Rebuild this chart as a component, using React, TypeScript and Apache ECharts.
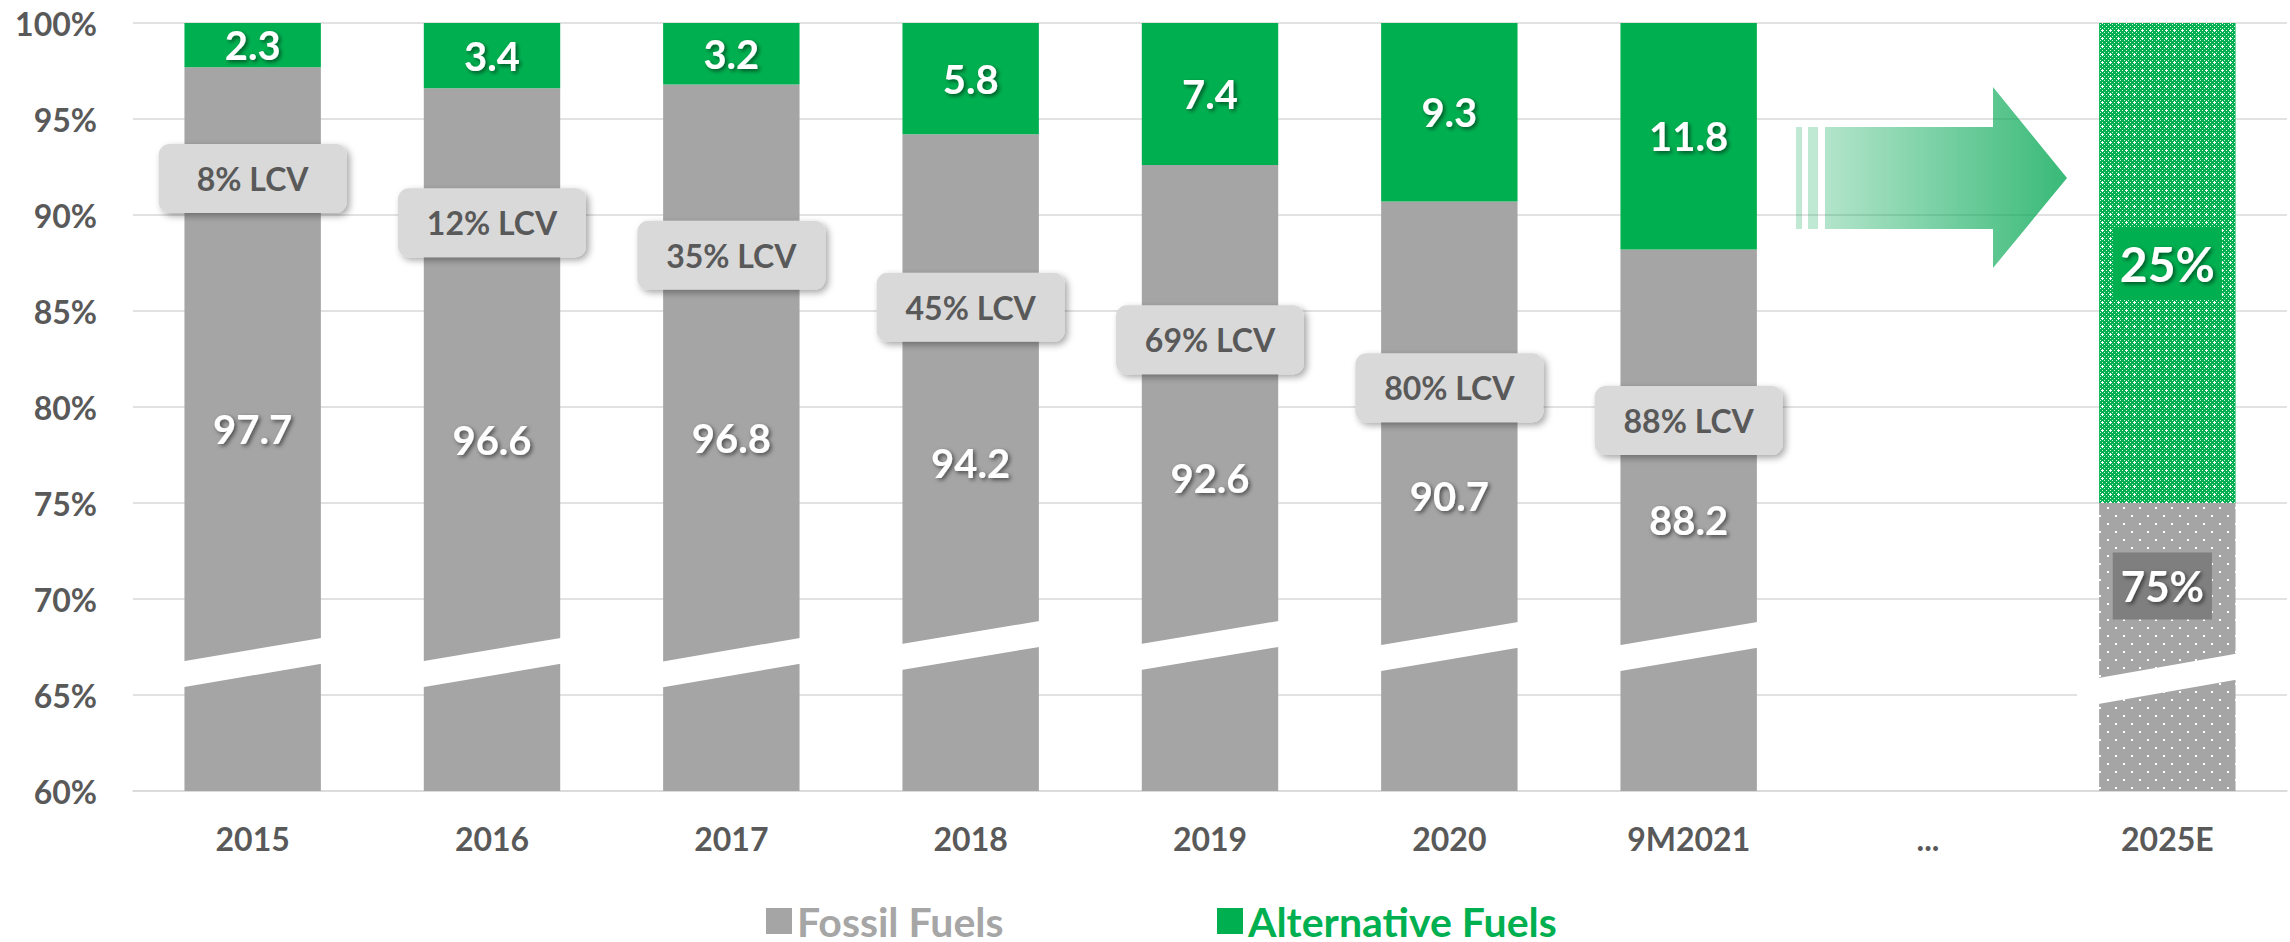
import React, { useEffect, useRef } from 'react';
import * as echarts from 'echarts';

const categories = ['2015', '2016', '2017', '2018', '2019', '2020', '9M2021', '...', '2025E'];
const fossilValues: (number | null)[] = [97.7, 96.6, 96.8, 94.2, 92.6, 90.7, 88.2, null, 75];
const alternativeValues: (number | null)[] = [2.3, 3.4, 3.2, 5.8, 7.4, 9.3, 11.8, null, 25];
const lcvLabels = ['8% LCV', '12% LCV', '35% LCV', '45% LCV', '69% LCV', '80% LCV', '88% LCV'];
const lcvLevels = [91.9, 89.6, 87.9, 85.2, 83.5, 81.0, 79.3];
// axis-break band: top value at left edge, top value at right edge
const breakLeftTop: (number | null)[] = [66.77, 66.77, 66.75, 67.66, 67.66, 67.6, 67.6, null, 65.89];
const breakRightTop: (number | null)[] = [67.97, 67.97, 67.97, 68.85, 68.85, 68.8, 68.8, null, 67.14];
const breakGap = 1.35;
const yMin = 60;
const yMax = 100;
const yInterval = 5;
const forecastIndex = 8;
const forecastFossilText = '75%';
const forecastAltText = '25%';

const GREY = '#a5a5a5';
const GREEN = '#00b050';
const TEXT = '#595959';
const FONT = 'Lato';
const BAR_RATIO = 0.57;

function makeGreenPattern() {
  const c = document.createElement('canvas');
  c.width = 8;
  c.height = 8;
  const ctx = c.getContext('2d')!;
  ctx.fillStyle = GREEN;
  ctx.fillRect(0, 0, 8, 8);
  ctx.fillStyle = 'rgba(255,255,255,0.85)';
  for (let y = 0; y < 8; y++) {
    for (let x = 0; x < 8; x++) {
      if (x % 2 === 0 && y % 2 === 0 && (x + y) % 4 === 0) ctx.fillRect(x, y, 1, 1);
    }
  }
  ctx.fillStyle = '#ffffff';
  ctx.fillRect(6, 5, 1, 3);
  ctx.fillRect(5, 6, 3, 1);
  return { image: c, repeat: 'repeat', imageWidth: 8, imageHeight: 8 } as any;
}

function makeGreyPattern() {
  const c = document.createElement('canvas');
  c.width = 16;
  c.height = 16;
  const ctx = c.getContext('2d')!;
  ctx.fillStyle = GREY;
  ctx.fillRect(0, 0, 16, 16);
  ctx.fillStyle = '#ffffff';
  ctx.fillRect(3, 3, 2, 2);
  ctx.fillRect(11, 11, 2, 2);
  return { image: c, repeat: 'repeat', imageWidth: 16, imageHeight: 16 } as any;
}

const valueLabel = {
  show: true,
  position: 'inside',
  color: '#ffffff',
  fontFamily: FONT,
  fontWeight: 'bold',
  fontSize: 40,
  textShadowColor: 'rgba(0,0,0,0.55)',
  textShadowBlur: 4,
  textShadowOffsetX: 2,
  textShadowOffsetY: 2,
};

export default function App() {
  const ref = useRef<HTMLDivElement>(null);

  useEffect(() => {
    if (!ref.current) return;
    const chart = echarts.init(ref.current, undefined, { renderer: 'svg' });

    const greenPattern = makeGreenPattern();
    const greyPattern = makeGreyPattern();

    const fossilData = fossilValues.map((v, i) => {
      if (i === forecastIndex) {
        return {
          value: v,
          itemStyle: { color: greyPattern },
          label: {
            ...valueLabel,
            formatter: forecastFossilText,
            fontSize: 42,
            lineHeight: 42,
            backgroundColor: '#7f7f7f',
            padding: [13, 8, 12, 8],
            offset: [-5, -61],
          },
        };
      }
      return v;
    });
    const altData = alternativeValues.map((v, i) => {
      if (i === forecastIndex) {
        return {
          value: v,
          itemStyle: { color: greenPattern },
          label: {
            ...valueLabel,
            formatter: forecastAltText,
            fontSize: 48,
            lineHeight: 48,
            backgroundColor: GREEN,
            padding: [12, 7, 12, 7],
          },
        };
      }
      return v;
    });

    const breakData: number[][] = [];
    breakLeftTop.forEach((v, i) => {
      const r = breakRightTop[i];
      if (v != null && r != null) breakData.push([i, v, r, breakGap]);
    });

    const lcvData = lcvLevels.map((v, i) => [i, v]);

    const legendText = { fontFamily: FONT, fontWeight: 'bold', fontSize: 41, lineHeight: 48 };

    const option: any = {
      animation: false,
      backgroundColor: '#ffffff',
      grid: { left: 133, right: 3, top: 23, bottom: 151, containLabel: false },
      legend: [
        {
          left: 761,
          top: 892,
          icon: 'rect',
          itemWidth: 26,
          itemHeight: 26,
          selectedMode: false,
          data: [{ name: 'Fossil Fuels', textStyle: { color: '#a6a6a6' } }],
          textStyle: legendText,
        },
        {
          left: 1212,
          top: 892,
          icon: 'rect',
          itemWidth: 26,
          itemHeight: 26,
          selectedMode: false,
          data: [{ name: 'Alternative Fuels', textStyle: { color: GREEN } }],
          textStyle: legendText,
        },
      ],
      xAxis: {
        type: 'category',
        data: categories,
        axisTick: { show: false },
        axisLine: { lineStyle: { color: '#d9d9d9', width: 1.5 } },
        axisLabel: {
          color: TEXT,
          fontFamily: FONT,
          fontWeight: 'bold',
          fontSize: 32,
          lineHeight: 32,
          margin: 31,
          interval: 0,
        },
      },
      yAxis: {
        type: 'value',
        min: yMin,
        max: yMax,
        interval: yInterval,
        axisLine: { show: false },
        axisTick: { show: false },
        splitLine: { lineStyle: { color: '#d9d9d9', width: 1.5 } },
        axisLabel: {
          formatter: '{value}%',
          color: TEXT,
          fontFamily: FONT,
          fontWeight: 'bold',
          fontSize: 32,
          margin: 36,
        },
      },
      series: [
        {
          name: 'Fossil Fuels',
          type: 'bar',
          stack: 'fuel',
          barWidth: BAR_RATIO * 100 + '%',
          itemStyle: { color: GREY },
          label: { ...valueLabel, formatter: (p: any) => Number(p.value).toFixed(1) },
          data: fossilData,
          z: 2,
        },
        {
          name: 'Alternative Fuels',
          type: 'bar',
          stack: 'fuel',
          barWidth: BAR_RATIO * 100 + '%',
          itemStyle: { color: GREEN },
          label: { ...valueLabel, formatter: (p: any) => Number(p.value).toFixed(1) },
          data: altData,
          z: 2,
        },
        {
          type: 'custom',
          z: 5,
          silent: true,
          clip: false,
          encode: { x: 0, y: 1 },
          data: breakData,
          renderItem: (params: any, api: any) => {
            const idx = api.value(0);
            const topL = api.value(1);
            const topR = api.value(2);
            const gap = api.value(3);
            const c = api.coord([idx, topL]);
            const band = api.size([1, 0])[0];
            const bw = band * BAR_RATIO;
            const xL = c[0] - bw / 2;
            const xR = c[0] + bw / 2;
            const yL = c[1];
            const yR = api.coord([idx, topR])[1];
            const th = api.size([0, gap])[1];
            const slope = (yR - yL) / bw;
            const eL = 22;
            const eR = 2;
            const p1 = [xL - eL, yL - slope * eL];
            const p2 = [xR + eR, yR + slope * eR];
            return {
              type: 'polygon',
              shape: { points: [p1, p2, [p2[0], p2[1] + th], [p1[0], p1[1] + th]] },
              style: { fill: '#ffffff' },
            };
          },
        },
        {
          type: 'scatter',
          z: 10,
          silent: true,
          symbol: 'rect',
          symbolSize: 1,
          itemStyle: { color: 'rgba(0,0,0,0)', opacity: 1 },
          data: lcvData,
          label: {
            show: true,
            position: 'inside',
            opacity: 1,
            formatter: (p: any) => lcvLabels[p.dataIndex],
            color: TEXT,
            fontFamily: FONT,
            fontWeight: 'bold',
            fontSize: 32,
            width: 188,
            height: 69,
            lineHeight: 69,
            align: 'center',
            verticalAlign: 'middle',
            backgroundColor: '#d9d9d9',
            borderRadius: 11,
            shadowColor: 'rgba(0,0,0,0.35)',
            shadowBlur: 7,
            shadowOffsetX: 3,
            shadowOffsetY: 3,
          },
          emphasis: { disabled: true },
        },
      ],
      graphic: [
        {
          type: 'rect',
          z: 100,
          silent: true,
          shape: { x: 1796, y: 127, width: 6, height: 102 },
          style: { fill: 'rgba(0,166,81,0.25)' },
        },
        {
          type: 'rect',
          z: 100,
          silent: true,
          shape: { x: 1808, y: 127, width: 10, height: 102 },
          style: { fill: 'rgba(0,166,81,0.25)' },
        },
        {
          type: 'polygon',
          z: 100,
          silent: true,
          shape: {
            points: [
              [1825, 127],
              [1993, 127],
              [1993, 87],
              [2067, 178],
              [1993, 268],
              [1993, 229],
              [1825, 229],
            ],
          },
          style: {
            fill: new echarts.graphic.LinearGradient(0, 0, 1, 0, [
              { offset: 0, color: 'rgba(0,166,81,0.3)' },
              { offset: 1, color: 'rgba(0,166,81,0.78)' },
            ]),
          },
        },
      ],
    };

    chart.setOption(option);
    return () => chart.dispose();
  }, []);

  return (
    <div
      ref={ref}
      style={{ position: 'fixed', left: 0, top: 0, width: 2290, height: 942, background: '#fff' }}
    />
  );
}
